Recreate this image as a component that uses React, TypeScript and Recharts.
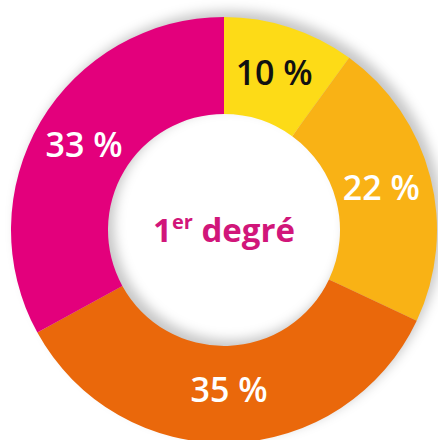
import React from 'react';
import { Cell, Pie, PieChart } from 'recharts';

const categories = ['A', 'B', 'C', 'D'];
const values = [10, 22, 35, 33];
const labels = ['10 %', '22 %', '35 %', '33 %'];
const colors = ['#FDDB17', '#F9B215', '#EA680B', '#E3007C'];
const labelColors = ['#111111', '#ffffff', '#ffffff', '#ffffff'];

const data = categories.map((name, i) => ({ name, value: values[i] }));
const shadowData = [{ name: 'shadow', value: 100 }];

const RADIAN = Math.PI / 180;

function SliceLabel(props: any) {
  const { cx, cy, midAngle, innerRadius, outerRadius, index } = props;
  const r = (innerRadius + outerRadius) / 2 - 2;
  const x = cx + r * Math.cos(-midAngle * RADIAN);
  const y = cy + r * Math.sin(-midAngle * RADIAN) - 3;
  return (
    <text
      x={x}
      y={y}
      textAnchor="middle"
      dominantBaseline="central"
      fill={labelColors[index]}
      fontSize={34}
      fontWeight={600}
      fontFamily="'Open Sans', sans-serif"
    >
      {labels[index]}
    </text>
  );
}

export default function App() {
  return (
    <div style={{ position: 'absolute', left: 0, top: 0, width: 438, height: 440, background: '#fff' }}>
      <svg width={0} height={0} style={{ position: 'absolute' }}>
        <defs>
          <filter id="ringBlur" x="-20%" y="-20%" width="140%" height="140%">
            <feGaussianBlur stdDeviation={6} />
          </filter>
        </defs>
      </svg>
      <PieChart width={438} height={440} margin={{ top: 0, right: 0, bottom: 0, left: 0 }}>
        <Pie
          data={shadowData}
          dataKey="value"
          cx={230}
          cy={224}
          innerRadius={116}
          outerRadius={213}
          startAngle={90}
          endAngle={-270}
          stroke="none"
          isAnimationActive={false}
        >
          <Cell fill="rgba(0,0,0,0.22)" filter="url(#ringBlur)" />
        </Pie>
        <Pie
          data={data}
          dataKey="value"
          nameKey="name"
          cx={224}
          cy={230}
          innerRadius={116}
          outerRadius={213}
          startAngle={90}
          endAngle={-270}
          stroke="none"
          label={SliceLabel}
          labelLine={false}
          isAnimationActive={false}
        >
          {data.map((d, i) => (
            <Cell key={d.name} fill={colors[i]} />
          ))}
        </Pie>
        <text
          x={224}
          y={242}
          textAnchor="middle"
          fill="#D1167A"
          fontSize={33}
          fontWeight={700}
          fontFamily="'Open Sans', sans-serif"
        >
          1<tspan fontSize={20} dy={-13}>er</tspan>
          <tspan dy={13}> degré</tspan>
        </text>
      </PieChart>
    </div>
  );
}
